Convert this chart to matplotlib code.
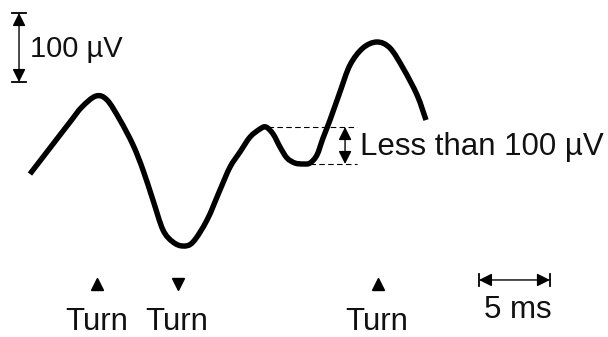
import matplotlib.pyplot as plt
import numpy as np
from matplotlib.path import Path
from matplotlib.patches import PathPatch

plt.rcParams['font.family'] = ['Liberation Sans', 'DejaVu Sans']

# waveform, time in ms and amplitude in microvolts
t_ms = [2.11, 3.52, 4.93, 5.77, 6.76, 7.54, 8.45, 9.37, 10.07, 10.77, 11.48,
        12.18, 12.89, 13.59, 14.58, 15.49, 16.20, 16.90, 17.61, 18.31, 18.73,
        19.23, 19.72, 20.21, 20.77, 21.34, 21.83, 22.32, 22.75, 23.24, 23.94,
        24.65, 25.56, 26.55, 27.46, 28.38, 29.37, 30.0]
v_uv = [37.7, 75.4, 113.0, 134.8, 150.7, 144.9, 115.9, 79.7, 43.5, 0.0, -43.5,
        -60.9, -66.7, -60.9, -29.0, 14.5, 47.8, 69.6, 91.3, 102.9, 105.8,
        95.7, 76.8, 60.9, 53.6, 52.2, 53.6, 65.2, 89.9, 115.9, 156.5,
        195.7, 220.3, 229.0, 220.3, 191.3, 152.2, 115.9]

# turning points
turn_t = [6.85, 12.5, 26.6]
turn_dir = ['^', 'v', '^']
turn_labels = ['Turn', 'Turn', 'Turn']

# small reversal that does not count as a turn
small_peak = 105.8
small_dip = 52.2

# calibration bars
amp_bar = (171.0, 271.0)     # 100 uV
time_bar = (33.73, 38.73)    # 5 ms

FS = 22.5


def smooth_path(xs, ys):
    # catmull-rom through the points, written as cubic bezier segments
    p = np.column_stack([xs, ys]).astype(float)
    p = np.vstack([p[0], p, p[-1]])
    verts = [p[1]]
    codes = [Path.MOVETO]
    for i in range(1, len(p) - 2):
        c1 = p[i] + (p[i + 1] - p[i - 1]) / 6
        c2 = p[i + 1] - (p[i + 2] - p[i]) / 6
        verts += [c1, c2, p[i + 1]]
        codes += [Path.CURVE4] * 3
    return Path(verts, codes)


fig = plt.figure(figsize=(6.08, 3.37), dpi=100)
ax = fig.add_axes([0, 0, 1, 1])
ax.set_xlim(0, 608 / 14.2)
ax.set_ylim((200 - 337) / 0.69, 200 / 0.69)
ax.axis('off')

ax.add_patch(PathPatch(smooth_path(t_ms, v_uv), facecolor='none',
                       edgecolor='black', lw=3.9, joinstyle='round',
                       capstyle='butt'))

# dashed levels of the small reversal
ax.plot([18.9, 25.15], [small_peak, small_peak], color='black', lw=0.8,
        dashes=(5, 3))
ax.plot([21.2, 25.15], [small_dip, small_dip], color='black', lw=0.8,
        dashes=(5, 3))
arrow = dict(arrowstyle='<|-|>,head_length=0.6,head_width=0.3',
             mutation_scale=13, color='black', lw=1.0, shrinkA=0, shrinkB=0)
ax.annotate('', xy=(24.3, small_peak), xytext=(24.3, small_dip),
            arrowprops=arrow)
ax.text(25.35, 65.2, 'Less than 100 µV', fontsize=FS, ha='left',
        va='baseline', color='#111111')

# amplitude calibration
ax.annotate('', xy=(1.34, amp_bar[1]), xytext=(1.34, amp_bar[0]),
            arrowprops=arrow)
for v in amp_bar:
    ax.plot([0.85, 1.83], [v, v], color='black', lw=1.3)
ax.text(2.11, 207.2, '100 µV', fontsize=21, ha='left', va='baseline',
        color='#111111')

# time calibration
bar_y = -115.9
ax.annotate('', xy=(time_bar[1], bar_y), xytext=(time_bar[0], bar_y),
            arrowprops=arrow)
for t in time_bar:
    ax.plot([t, t], [bar_y - 8.5, bar_y + 8.5], color='black', lw=1.3)
ax.text(np.mean(time_bar) + 0.25, -171.0, '5 ms', fontsize=FS, ha='center',
        va='baseline', color='#111111')

# turn markers and labels
for t, m, lab in zip(turn_t, turn_dir, turn_labels):
    ax.plot(t, -122, marker=m, color='black', markersize=9, ls='none')
    ax.text(t - 0.05, -188.4, lab, fontsize=FS, ha='center', va='baseline',
            color='#111111')

fig.savefig('out.png', dpi=100)
